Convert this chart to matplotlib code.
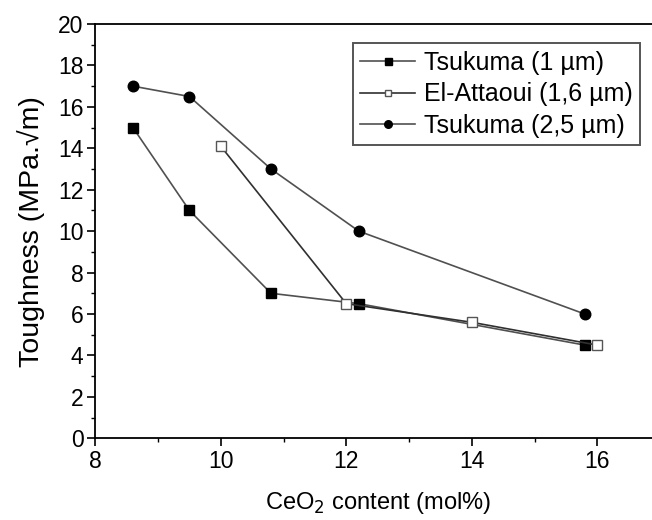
import matplotlib
matplotlib.use("Agg")
import matplotlib.pyplot as plt
from matplotlib.ticker import MultipleLocator

plt.rcParams["font.family"] = ["Liberation Sans", "DejaVu Sans"]

# data
tsu1_x = [8.6, 9.5, 10.8, 12.2, 15.8]
tsu1_y = [15.0, 11.0, 7.0, 6.5, 4.5]

elatt_x = [10.0, 12.0, 14.0, 16.0]
elatt_y = [14.1, 6.5, 5.6, 4.5]

tsu25_x = [8.6, 9.5, 10.8, 12.2, 15.8]
tsu25_y = [17.0, 16.5, 13.0, 10.0, 6.0]

labels = ["Tsukuma (1 µm)", "El-Attaoui (1,6 µm)", "Tsukuma (2,5 µm)"]

W, H = 652, 520
fig = plt.figure(figsize=(W / 100, H / 100), dpi=100)
left, right = 95.3 / W, 660 / W
bottom, top = 1 - 438.3 / H, 1 - 24 / H
ax = fig.add_axes([left, bottom, right - left, top - bottom])

line_col = "#505050"
ax.plot(tsu1_x, tsu1_y, color=line_col, lw=1.2, marker="s", ms=7.0,
        mfc="black", mec="black", label=labels[0])
ax.plot(elatt_x, elatt_y, color="#303030", lw=1.2, marker="s", ms=6.8,
        mfc="white", mec="#555555", mew=1.0, label=labels[1])
ax.plot(tsu25_x, tsu25_y, color=line_col, lw=1.2, marker="o", ms=7.6,
        mfc="black", mec="black", label=labels[2])

ax.set_xlim(8, 17)
ax.set_ylim(0, 20)
ax.xaxis.set_major_locator(MultipleLocator(2))
ax.xaxis.set_minor_locator(MultipleLocator(1))
ax.yaxis.set_major_locator(MultipleLocator(2))
ax.yaxis.set_minor_locator(MultipleLocator(1))
ax.tick_params(which="major", direction="out", length=5.5, width=1.2,
               labelsize=16.5, pad=3)
ax.tick_params(which="minor", direction="out", length=3, width=1.0)
ax.tick_params(top=False, right=False)
for s in ax.spines.values():
    s.set_linewidth(1.3)
ax.spines["right"].set_visible(False)

ax.set_ylabel("Toughness (MPa.√m)", fontsize=20.5, labelpad=9)
ax.set_xlabel("CeO$_2$ content (mol%)", fontsize=17, labelpad=12)

leg = ax.legend(loc="upper right", bbox_to_anchor=(640 / W, 1 - 43.3 / H),
                bbox_transform=fig.transFigure, borderaxespad=0,
                fontsize=18, frameon=True, fancybox=False, framealpha=1,
                edgecolor="#555555", handlelength=2.2, handletextpad=0.35,
                labelspacing=0.3, markerscale=0.72, borderpad=0.3)
leg.get_frame().set_linewidth(1.4)

fig.savefig("out.png", dpi=100)
